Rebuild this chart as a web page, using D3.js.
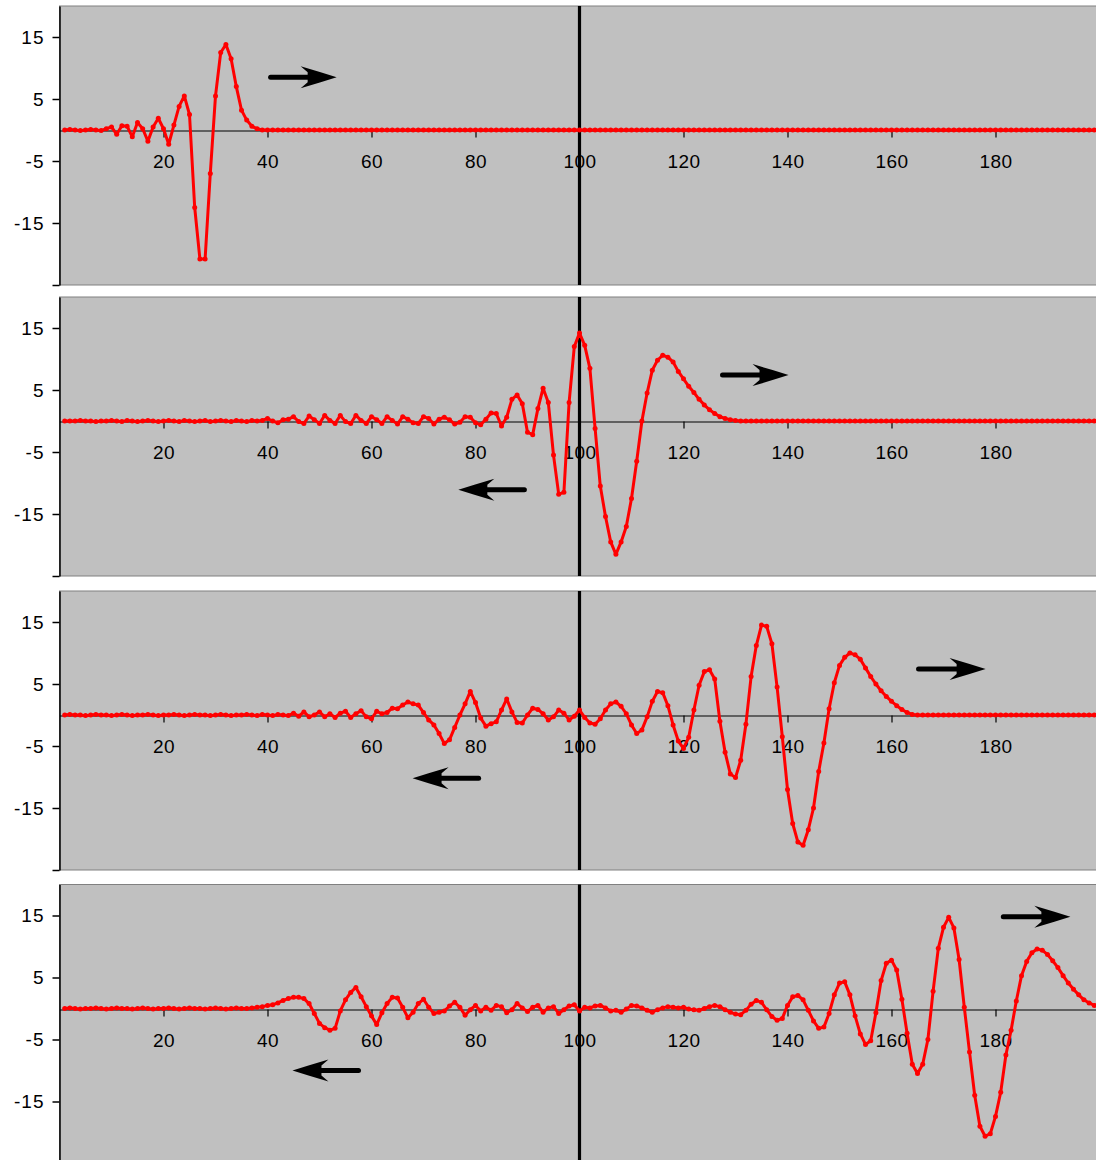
<!DOCTYPE html>
<html><head><meta charset="utf-8">
<script src="https://cdn.jsdelivr.net/npm/d3@7"></script>
<style>
body{margin:0;background:#fff}
svg{display:block}
text{font-family:"Liberation Sans",Arial,sans-serif;}
</style>
</head><body>
<svg id="chart" width="1096" height="1160"></svg>
<script>
// ---------- categories (sample index) ----------
const categories = d3.range(1, 201);
const xTickValues = [20, 40, 60, 80, 100, 120, 140, 160, 180];
const yTickValues = [-25, -15, -5, 5, 15];
const yTickLabels = ["", "-15", "-5", "5", "15"];
const markerX = 100;

// ---------- series values (x = 1..200) ----------
const wave1 = [
 0,0.1,0,-0.1,0,0.1,0,-0.1,0.2,0.5,
 -0.7,0.7,0.6,-1.1,1.2,0.2,-1.8,0.5,1.9,0.2,
 -2.3,0.8,3.8,5.5,2.5,-12.5,-20.8,-20.8,-7,5.5,
 12.5,13.8,11.5,7,3.2,1.6,0.6,0.2,0,0,
 0,0,0,0,0,0,0,0,0,0, 0,0,0,0,0,0,0,0,0,0,
 0,0,0,0,0,0,0,0,0,0, 0,0,0,0,0,0,0,0,0,0,
 0,0,0,0,0,0,0,0,0,0, 0,0,0,0,0,0,0,0,0,0,
 0,0,0,0,0,0,0,0,0,0, 0,0,0,0,0,0,0,0,0,0,
 0,0,0,0,0,0,0,0,0,0, 0,0,0,0,0,0,0,0,0,0,
 0,0,0,0,0,0,0,0,0,0, 0,0,0,0,0,0,0,0,0,0,
 0,0,0,0,0,0,0,0,0,0, 0,0,0,0,0,0,0,0,0,0,
 0,0,0,0,0,0,0,0,0,0, 0,0,0,0,0,0,0,0,0,0
];
const wave2 = [
 0,0,0,0.1,0,0,-0.1,0,0,0.1, 0,-0.1,0.1,0,-0.1,0,0.1,0,-0.1,0,
 0.1,0,-0.1,0.1,0,-0.1,0,0.1,-0.1,0, 0.1,0,-0.1,0.1,0,-0.1,0.1,0,0.1,0.4,
 0,-0.3,0.2,0.3,0.7,-0.1,-0.4,0.8,0.2,-0.4, 0.9,0.1,-0.4,0.9,-0.1,-0.4,0.9,0.1,-0.4,0.7,
 0.2,-0.4,0.7,0.1,-0.5,0.7,0.3,-0.3,-0.4,0.7, 0.4,-0.5,0.3,0.6,0.2,-0.5,-0.2,0.7,0.6,-0.3,
 -0.6,0.3,1.3,1.2,-0.8,0.6,3.5,4.2,2.8,-1.8, -2.2,2.0,5.3,3.0,-5.5,-11.8,-11.5,3,12,14.2,
 12.2,8.5,-1.2,-10.5,-15.4,-19.5,-21.5,-19.5,-17,-12.5, -6.5,0,4.5,8.2,9.8,10.6,10.3,9.5,8,6.8,
 5.6,4.6,3.5,2.6,1.8,1.2,0.7,0.4,0.2,0.1, 0,0,0,0,0,0,0,0,0,0,
 0,0,0,0,0,0,0,0,0,0, 0,0,0,0,0,0,0,0,0,0,
 0,0,0,0,0,0,0,0,0,0, 0,0,0,0,0,0,0,0,0,0,
 0,0,0,0,0,0,0,0,0,0, 0,0,0,0,0,0,0,0,0,0
];
const wave3 = [
 0,0.1,0,0,-0.1,0,0.1,0,0,-0.1, 0,0.1,0,-0.1,0,0,0.1,0,-0.1,0,
 0,0.1,0,-0.1,0,0.1,0,0,-0.1,0, 0.1,0,-0.1,0,0,0.1,0,-0.1,0.1,0,
 -0.1,0.1,0,-0.1,0.3,-0.2,0.5,-0.3,0,0.5, -0.3,0.2,-0.4,0.3,0.6,-0.4,0.2,0.7,-0.3,-0.6,
 0.6,0.2,0.4,1.1,1.0,1.6,2.1,1.8,1.6,0.4, -0.8,-1.6,-3.0,-4.6,-4.0,-2.0,0,1.8,3.8,2.0,
 -0.5,-1.8,-1.4,-1.1,0.8,2.6,0.5,-1.2,-1.3,0, 1.1,0.9,0.2,-0.8,-0.3,0.8,0.3,-0.8,-0.2,0.8,
 -0.4,-1.3,-1.5,-0.6,0.8,1.8,2.1,1.4,0.2,-1.6, -3.0,-2.4,-0.3,2.2,3.8,3.6,1.5,-1.6,-4.2,-5.4,
 -3.6,0.8,4.8,7.0,7.3,5.8,-1.0,-6.0,-9.5,-10.1, -7.3,-1.5,6.2,11.2,14.5,14.3,11.5,4.5,-3.5,-12,
 -17.5,-20.5,-21,-18.5,-15,-9.1,-4.5,1.0,5.2,8.0, 9.3,10.0,9.7,9.0,7.6,6.2,5.0,3.9,3.0,2.2,
 1.5,0.9,0.4,0.1,0,0,0,0,0,0, 0,0,0,0,0,0,0,0,0,0,
 0,0,0,0,0,0,0,0,0,0, 0,0,0,0,0,0,0,0,0,0
];
const wave4 = [
 0,0.1,0,-0.1,0,0,0.1,0,-0.1,0, 0.1,0,0,-0.1,0,0.1,0,-0.1,0,0,
 0.1,0,-0.1,0,0.1,0,0,-0.1,0,0.1, 0,-0.1,0,0.1,0,0,0.1,0.2,0.3,0.5,
 0.6,0.9,1.3,1.6,1.8,1.8,1.6,0.8,-0.8,-2.4, -3.1,-3.5,-3.2,-0.4,1.4,2.6,3.4,1.9,0.3,-1.2,
 -2.6,-0.7,0.8,1.8,1.7,0.2,-1.5,-0.6,0.8,1.5, 0.2,-0.8,-0.6,-0.4,0.4,1.0,0.2,-1.1,-0.2,0.5,
 -0.4,0.2,-0.3,0.5,0.3,-0.7,-0.2,0.8,0.1,-0.5, 0.2,0.5,-0.6,0.1,0.3,-0.8,-0.2,0.4,0.6,-0.4,
 0.2,0.1,0.4,0.5,0.1,-0.4,-0.3,-0.6,-0.1,0.5, 0.4,0.1,-0.3,-0.6,-0.2,0.1,0.3,0.2,0.1,0.2,
 -0.1,-0.2,-0.3,0,0.3,0.5,0.3,-0.2,-0.6,-0.9, -1.0,-0.3,0.7,1.3,1.0,-0.2,-1.3,-1.9,-1.6,0.5,
 1.9,2.1,1.4,-0.3,-2.0,-3.2,-3.0,-0.8,2.2,4.1, 4.3,2.2,-1.2,-4.1,-5.8,-5.2,-0.7,4.5,7.3,7.8,
 6.2,1.5,-4,-9,-10.5,-9,-5,2.8,9.7,13.1, 14.7,13,7.9,0.2,-7,-14,-19,-20.6,-20.2,-17.4,
 -13.5,-7.5,-3.5,1.2,5.3,7.6,9,9.6,9.4,8.7, 7.7,6.6,5.3,4.1,3.1,2.2,1.4,0.9,0.5,0.3
];
const seriesList = [wave1, wave2, wave3, wave4];

// ---------- direction arrows (data units) ----------
const arrows1 = [{from: 40.6, to: 53.3, y: 8.5}];
const arrows2 = [{from: 127.5, to: 140.2, y: 7.4}, {from: 89.4, to: 76.7, y: -11.1}];
const arrows3 = [{from: 165.2, to: 178.1, y: 7.4}, {from: 80.6, to: 67.9, y: -10.2}];
const arrows4 = [{from: 181.5, to: 194.4, y: 14.8}, {from: 57.5, to: 44.8, y: -10}];
const arrowsList = [arrows1, arrows2, arrows3, arrows4];

// ---------- layout ----------
const panelZero = [130, 421, 715, 1008.5];
const pxPerUnitY = 6.2;
const svg = d3.select("#chart");
const x = d3.scaleLinear().domain([0, 200]).range([59.5, 1099.5]);

function drawArrow(g, a, y) {
  const x0 = x(a.from), x1 = x(a.to), yy = y(a.y);
  const dir = Math.sign(x1 - x0);
  g.append("line")
    .attr("x1", x0).attr("x2", x1 - dir * 26)
    .attr("y1", yy).attr("y2", yy)
    .attr("stroke", "#000").attr("stroke-width", 5).attr("stroke-linecap", "round");
  const pts = [[0,0],[-16,-5],[-36,-11],[-29,-5],[-29,5],[-36,11],[-16,5]];
  g.append("path")
    .attr("d", "M" + pts.map(p => [x1 + dir * p[0], yy + p[1]].join(",")).join("L") + "Z")
    .attr("fill", "#000");
}

seriesList.forEach((vals, i) => {
  const z = panelZero[i];
  const y = d3.scaleLinear().domain([-25, 20]).range([z + 25 * pxPerUnitY, z - 20 * pxPerUnitY]);
  const g = svg.append("g");
  const top = y(20), bottom = y(-25);

  // plot area
  g.append("rect")
    .attr("x", x(0)).attr("y", top)
    .attr("width", x(200) - x(0)).attr("height", bottom - top)
    .attr("fill", "#C0C0C0").attr("stroke", "#808080").attr("stroke-width", 1);

  // x axis on zero line
  const xAxis = d3.axisBottom(x).tickValues(xTickValues).tickSize(7).tickSizeOuter(0).tickPadding(17);
  const gx = g.append("g").attr("transform", `translate(0,${Math.round(y(0)) + 0.5})`).call(xAxis);
  gx.select(".domain").attr("stroke", "#000").attr("stroke-width", 1.2);
  gx.selectAll(".tick line").attr("stroke", "#000").attr("stroke-width", 1.2);
  gx.selectAll("text").attr("font-size", 19).attr("fill", "#000")
    .attr("letter-spacing", 0.5)
    .attr("font-family", "'Liberation Sans', Arial, sans-serif");

  // y axis
  const yAxis = d3.axisLeft(y).tickValues(yTickValues).tickSize(7).tickSizeOuter(0).tickPadding(8)
    .tickFormat((d, k) => yTickLabels[k]);
  const gy = g.append("g").attr("transform", `translate(${x(0)},0)`).call(yAxis);
  gy.select(".domain").attr("stroke", "#000").attr("stroke-width", 1.5);
  gy.selectAll(".tick line").attr("stroke", "#000").attr("stroke-width", 1.5);
  gy.selectAll("text").attr("font-size", 19).attr("fill", "#000")
    .attr("letter-spacing", 1)
    .attr("font-family", "'Liberation Sans', Arial, sans-serif");

  // vertical reference at x = 100
  g.append("line")
    .attr("x1", x(markerX)).attr("x2", x(markerX))
    .attr("y1", top).attr("y2", bottom)
    .attr("stroke", "#000").attr("stroke-width", 3.2);

  // series line + markers
  const line = d3.line().x((d, k) => x(categories[k])).y(d => y(d));
  g.append("path").datum(vals)
    .attr("d", line).attr("fill", "none")
    .attr("stroke", "#FF0000").attr("stroke-width", 3).attr("stroke-linejoin", "round");
  g.selectAll("circle.pt").data(vals).join("circle")
    .attr("class", "pt")
    .attr("cx", (d, k) => x(categories[k])).attr("cy", d => y(d))
    .attr("r", 2.5).attr("fill", "#FF0000");

  // arrows
  arrowsList[i].forEach(a => drawArrow(g, a, y));
});
</script>
</body></html>
